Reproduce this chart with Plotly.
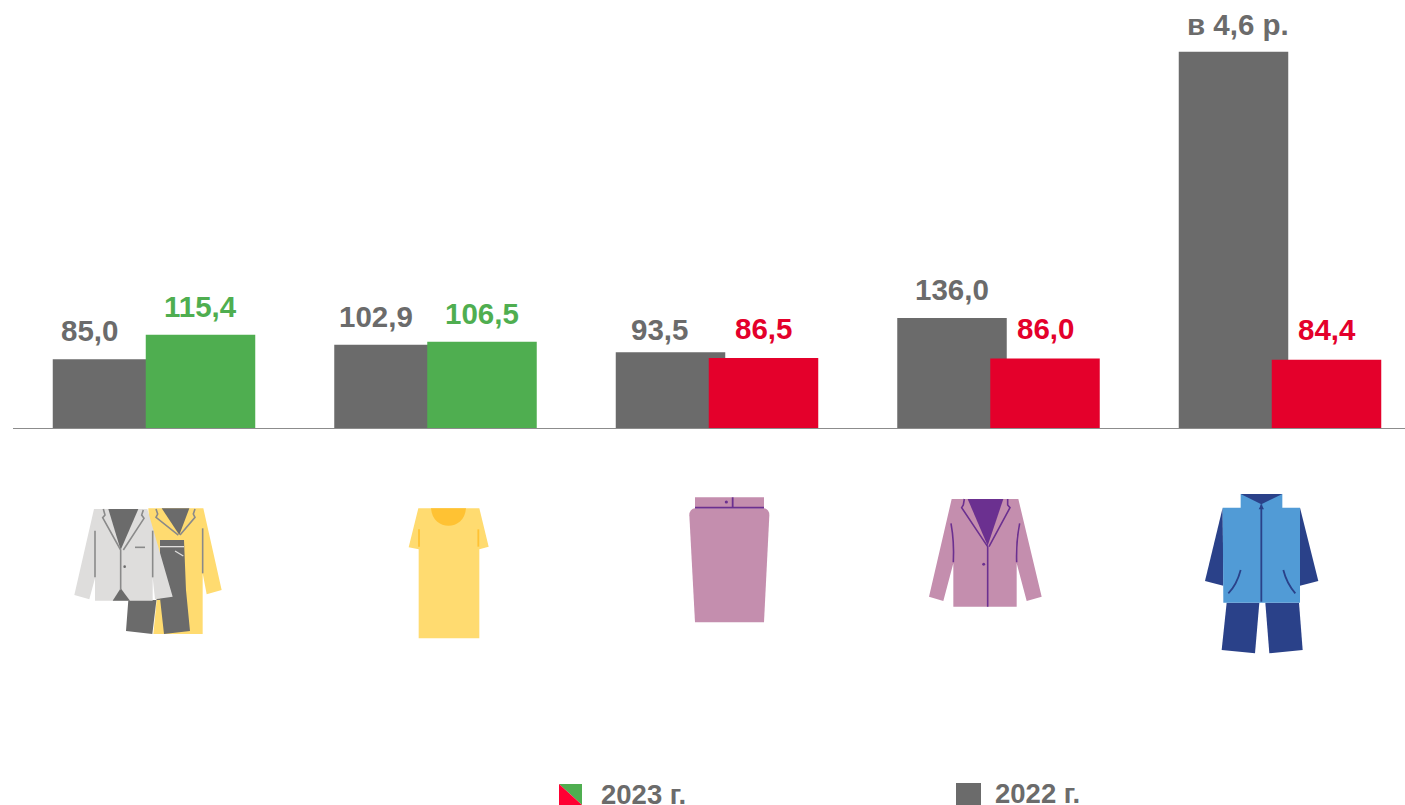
import re
import plotly.graph_objects as go

# ---- data ----
categories = [0, 1, 2, 3, 4]
values_2022 = [85.0, 102.9, 93.5, 136.0, 465.0]
values_2023 = [115.4, 106.5, 86.5, 86.0, 84.4]
labels_2022 = ["85,0", "102,9", "93,5", "136,0", "в 4,6 р."]
labels_2023 = ["115,4", "106,5", "86,5", "86,0", "84,4"]
legend_labels = ["2023 г.", "2022 г."]

# ---- style ----
W, H = 1405, 805
GRAY = "#6B6B6B"
GREEN = "#4FAE50"
RED = "#E4002B"
colors_2023 = [GREEN, GREEN, RED, RED, RED]
FONT = "Liberation Sans, Arial, sans-serif"
YEL, GOLD, LIGHT = "#FFDB70", "#FFC233", "#DEDDDC"
PINK, PURPLE, BLUE, NAVY = "#C48EAE", "#6B3090", "#519BD6", "#2A4189"
LINE_DK = "#8A8A8A"

plot_l, plot_r, base_y = 13.0, 1405.0, 428.0
period = 281.5
x_low = -0.5
x_high = x_low + (plot_r - plot_l) / period
px_per_unit = 0.809
bar_w = 109.5 / period
off_2022 = -101.0 / period
off_2023 = -8.0 / period

fig = go.Figure()
fig.add_bar(x=categories, y=values_2022, width=bar_w, offset=off_2022,
            marker=dict(color=GRAY, line_width=0), hoverinfo="skip", showlegend=False)
fig.add_bar(x=categories, y=values_2023, width=bar_w, offset=off_2023,
            marker=dict(color=colors_2023, line_width=0), hoverinfo="skip", showlegend=False)

# value labels (px shift from bar centre, px gap above bar)
FS = 29.5
shift_2022 = [-18, -13, -11, 0, 4]
gap_2022 = [10, 10, 4, 10, 9]
gap_2023 = [10, 10, 11, 11, 12]
annos = []
for c, v, t, sx, g in zip(categories, values_2022, labels_2022, shift_2022, gap_2022):
    annos.append(dict(x=c + off_2022 + bar_w / 2, y=v, text=f"<b>{t}</b>", xref="x", yref="y",
                      showarrow=False, xshift=sx, yshift=g, yanchor="bottom",
                      font=dict(family=FONT, size=FS, color=GRAY)))
for c, v, t, col, g in zip(categories, values_2023, labels_2023, colors_2023, gap_2023):
    annos.append(dict(x=c + off_2023 + bar_w / 2, y=v, text=f"<b>{t}</b>", xref="x", yref="y",
                      showarrow=False, yshift=g, yanchor="bottom",
                      font=dict(family=FONT, size=FS, color=col)))

# helpers: pixel geometry -> paper coordinates (whole figure)
def fx(x): return x / W
def fy(y): return 1 - y / H

def conv(d):
    nums = iter(range(10**6))
    def rep(m):
        i = next(nums)
        v = float(m.group(0))
        return f"{fx(v) if i % 2 == 0 else fy(v):.5f}"
    return re.sub(r"-?\d+(?:\.\d+)?", rep, d)

shapes = []
def fill(d, color):
    shapes.append(dict(type="path", xref="paper", yref="paper", path=conv(d),
                       fillcolor=color, line=dict(width=0), layer="above"))
def stroke(d, color, w=1.8):
    shapes.append(dict(type="path", xref="paper", yref="paper", path=conv(d),
                       line=dict(color=color, width=w), layer="above"))
def dot(x, y, r, color):
    d = f"M {x-r} {y} Q {x-r} {y-r} {x} {y-r} Q {x+r} {y-r} {x+r} {y} Q {x+r} {y+r} {x} {y+r} Q {x-r} {y+r} {x-r} {y} Z"
    fill(d, color)

def zp(ox, oy, pts):
    """zoom-crop coordinates -> page pixels, as M/L path"""
    return " ".join(("M" if i == 0 else "L") + f" {ox + a / 3:.2f} {oy + b / 3:.2f}" for i, (a, b) in enumerate(pts))

# --- icon 1: yellow coat, dark trousers, light jacket
o = (60, 490)
fill(zp(*o, [(265,55),(430,55),(485,300),(440,313),(428,250),(428,432),(280,432),(290,330),(270,150)]) + " Z", YEL)
fill(zp(*o, [(305,55),(388,55),(358,135)]) + " Z", GRAY)
fill(zp(*o, [(300,150),(372,150),(378,300),(390,423),(312,432),(300,325),(290,325),(277,432),(198,423),(205,330),(300,330)]) + " Z", GRAY)
stroke(zp(*o, [(300,170),(372,170)]), LIGHT, 1.3)
stroke(zp(*o, [(345,183),(370,198)]), LIGHT, 1.3)
stroke(zp(*o, [(288,57),(293,72),(288,82),(355,135)]), LINE_DK, 1.6)
stroke(zp(*o, [(405,57),(400,72),(405,82),(360,135)]), LINE_DK, 1.6)
stroke(zp(*o, [(428,115),(428,250)]), LINE_DK, 1.6)
fill(zp(*o, [(102,57),(262,57),(338,320),(285,328),(278,262),(278,332),(105,332),(105,265),(88,328),(43,315)]) + " Z", LIGHT)
fill(zp(*o, [(145,57),(235,57),(182,180)]) + " Z", GRAY)
fill(zp(*o, [(158,332),(182,295),(210,332)]) + " Z", GRAY)
stroke(zp(*o, [(130,57),(135,75),(128,83),(182,180),(182,300)]), LINE_DK, 1.6)
stroke(zp(*o, [(250,60),(245,75),(252,85),(190,180)]), LINE_DK, 1.6)
stroke(zp(*o, [(225,172),(255,172)]), LINE_DK, 1.6)
stroke(zp(*o, [(105,122),(105,262)]), LINE_DK, 1.6)
stroke(zp(*o, [(278,122),(278,262)]), LINE_DK, 1.6)
dot(60 + 194 / 3, 490 + 230 / 3, 1.3, GRAY)

# --- icon 2: dress
o = (390, 490)
fill(zp(*o, [(85,55),(268,55),(296,170),(268,178),(268,445),(86,445),(86,178),(56,172)]) + " Z", YEL)
fill(f"M {390+123/3:.2f} {490+55/3:.2f} C {390+128/3:.2f} {490+125/3:.2f} {390+223/3:.2f} {490+125/3:.2f} {390+228/3:.2f} {490+55/3:.2f} Z", GOLD)
stroke(zp(*o, [(87,118),(87,170)]), GOLD, 1.8)
stroke(zp(*o, [(265,118),(265,170)]), GOLD, 1.8)

# --- icon 3: skirt
fill(zp(*o, [(915,22),(1122,22),(1122,55),(915,55)]) + " Z", PINK)
fill(f"M {390+915/3:.2f} {490+55/3:.2f} L {390+1122/3:.2f} {490+55/3:.2f} Q {390+1138/3:.2f} {490+58/3:.2f} {390+1138/3:.2f} {490+76/3:.2f} "
     f"L {390+1122/3:.2f} {490+397/3:.2f} L {390+915/3:.2f} {490+397/3:.2f} L {390+898/3:.2f} {490+76/3:.2f} Q {390+898/3:.2f} {490+58/3:.2f} {390+915/3:.2f} {490+55/3:.2f} Z", PINK)
stroke(zp(*o, [(915,53),(1122,53)]), PURPLE, 1.8)
stroke(zp(*o, [(1028,22),(1028,53)]), PURPLE, 1.8)
dot(390 + 1009 / 3, 490 + 36 / 3, 1.6, PURPLE)

# --- icon 4: jacket
o = (915, 485)
fill(zp(*o, [(110,42),(310,42),(380,335),(335,348),(305,235),(305,365),(115,365),(115,235),(85,348),(42,335)]) + " Z", PINK)
fill(zp(*o, [(158,42),(265,42),(218,182)]) + " Z", PURPLE)
stroke(zp(*o, [(148,42),(145,60),(140,68),(218,185),(218,365)]), PURPLE, 1.6)
stroke(zp(*o, [(278,42),(278,60),(285,68),(222,185)]), PURPLE, 1.6)
dot(915 + 206 / 3, 485 + 238 / 3, 1.5, PURPLE)
stroke(f"M {915+108/3:.2f} {485+115/3:.2f} Q {915+118/3:.2f} {485+170/3:.2f} {915+115/3:.2f} {485+232/3:.2f}", PURPLE, 1.6)
stroke(f"M {915+314/3:.2f} {485+115/3:.2f} Q {915+303/3:.2f} {485+170/3:.2f} {915+305/3:.2f} {485+232/3:.2f}", PURPLE, 1.6)

# --- icon 5: vest, sleeves, trousers
o = (1190, 485)
fill(zp(*o, [(98,68),(45,288),(100,302)]) + " Z", NAVY)
fill(zp(*o, [(330,68),(385,288),(330,302)]) + " Z", NAVY)
fill(zp(*o, [(110,353),(208,353),(195,505),(95,495)]) + " Z", NAVY)
fill(zp(*o, [(226,353),(327,353),(338,495),(238,505)]) + " Z", NAVY)
fill(zp(*o, [(152,27),(277,27),(277,68),(330,68),(330,353),(100,353),(98,68),(152,68)]) + " Z", BLUE)
fill(zp(*o, [(152,27),(277,27),(214,58)]) + " Z", NAVY)
fill(zp(*o, [(214,58),(222,73),(206,73)]) + " Z", NAVY)
stroke(zp(*o, [(214,58),(214,350)]), NAVY, 1.8)
stroke(f"M {1190+152/3:.2f} {485+255/3:.2f} Q {1190+140/3:.2f} {485+300/3:.2f} {1190+115/3:.2f} {485+325/3:.2f}", NAVY, 1.8)
stroke(f"M {1190+280/3:.2f} {485+255/3:.2f} Q {1190+290/3:.2f} {485+295/3:.2f} {1190+316/3:.2f} {485+325/3:.2f}", NAVY, 1.8)

# --- legend
fill("M 559 784 L 582 784 L 582 805 Z", GREEN)
fill("M 559 784 L 582 805 L 559 805 Z", "#FF0033")
fill("M 956 783 L 981 783 L 981 805 L 956 805 Z", GRAY)
for t, x, y in zip(legend_labels, [643.5, 1037.5], [794, 793]):
    annos.append(dict(x=fx(x), y=fy(y), text=f"<b>{t}</b>", xref="paper", yref="paper", showarrow=False,
                      xanchor="center", yanchor="middle", font=dict(family=FONT, size=27.5, color=GRAY)))

fig.update_layout(
    width=W, height=H, autosize=False,
    margin=dict(l=0, r=0, t=0, b=0),
    paper_bgcolor="white", plot_bgcolor="white",
    barmode="overlay",
    hovermode=False,
    xaxis=dict(domain=[plot_l / W, plot_r / W], range=[x_low, x_high], showgrid=False, zeroline=False,
               showticklabels=False, ticks="", showline=True, linecolor="#8C8C8C", linewidth=1,
               fixedrange=True),
    yaxis=dict(domain=[1 - base_y / H, 1], range=[0, base_y / px_per_unit], visible=False,
               showgrid=False, zeroline=False, fixedrange=True),
    annotations=annos, shapes=shapes,
)
fig.write_html("out.html", config={"displayModeBar": False},
               post_script="document.body.style.margin='0';document.body.style.overflow='hidden';")
